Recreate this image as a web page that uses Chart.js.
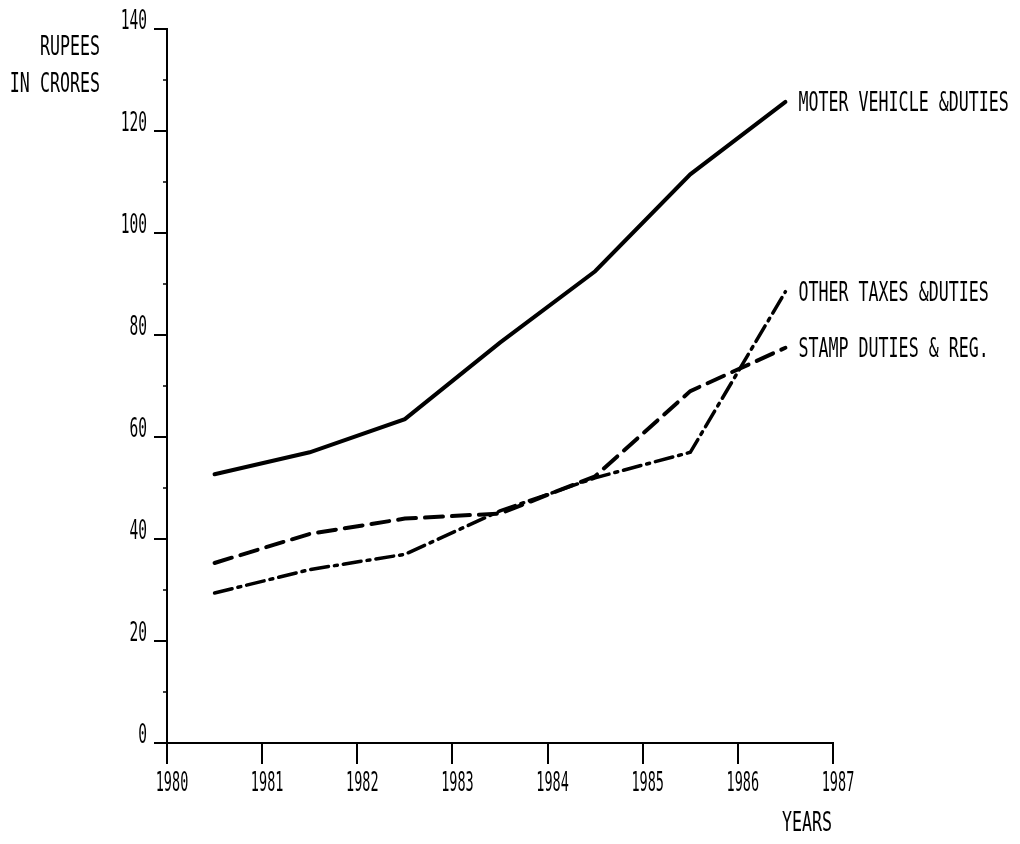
<!DOCTYPE html>
<html lang="en">
<head>
<meta charset="UTF-8" />
<title>Revenue in Rupees Crores, 1980-1987</title>
<script src="https://cdn.jsdelivr.net/npm/chart.js"></script>
<style>
  html, body { margin: 0; padding: 0; background: #fff; }
</style>
</head>
<body>
<canvas id="chart" width="1020" height="844"></canvas>
<script>
  // values, points sit mid-year
  const years = [1980.5, 1981.5, 1982.5, 1983.5, 1984.5, 1985.5, 1986.5];
  const motorVehicle = [52.7, 57, 63.5, 78.5, 92.5, 111.5, 125.7];
  const stampDuties = [35.3, 41, 44, 45, 52.3, 69, 77.5];
  const otherTaxes = [29.4, 34, 37, 45.5, 52, 57, 88.5];
  const seriesNames = ["MOTER VEHICLE &DUTIES", "STAMP DUTIES & REG.", "OTHER TAXES &DUTIES"];
  const yUnitLines = ["RUPEES", "IN CRORES"];
  const xTitle = "YEARS";

  // plotter-looking lettering: monospace squeezed sideways
  const FONT = '"DejaVu Sans Mono", "Liberation Mono", monospace';

  const toPoints = (vals) => vals.map((v, i) => ({ x: years[i], y: v }));

  function narrowText(ctx, text, x, y, align, size, squeeze) {
    ctx.save();
    ctx.translate(x, y);
    ctx.scale(squeeze, 1);
    ctx.font = size + "px " + FONT;
    ctx.textAlign = align;
    ctx.textBaseline = "alphabetic";
    ctx.fillText(text, 0, 0);
    ctx.restore();
  }

  const annotations = {
    id: "annotations",
    afterDraw(chart) {
      const ctx = chart.ctx;
      const xs = chart.scales.x;
      const ys = chart.scales.y;
      ctx.save();
      ctx.fillStyle = "#000";
      ctx.strokeStyle = "#000";

      // small minor ticks between the labelled ones
      ctx.lineWidth = 1.5;
      for (let v = 10; v < 140; v += 20) {
        const py = ys.getPixelForValue(v);
        ctx.beginPath();
        ctx.moveTo(xs.left - 4, py);
        ctx.lineTo(xs.left, py);
        ctx.stroke();
      }

      // tick labels
      ys.ticks.forEach((t) => {
        narrowText(ctx, String(t.value), xs.left - 20, ys.getPixelForValue(t.value), "right", 26, 0.56);
      });
      xs.ticks.forEach((t) => {
        narrowText(ctx, String(t.value), xs.getPixelForValue(t.value) + 5, ys.bottom + 48, "center", 26, 0.52);
      });

      // axis titles
      narrowText(ctx, yUnitLines[0], 100, 55, "right", 26, 0.64);
      narrowText(ctx, yUnitLines[1], 100, 92, "right", 26, 0.64);
      narrowText(ctx, xTitle, 782, 831, "left", 26, 0.64);

      // series names at the line ends
      chart.data.datasets.forEach((ds, i) => {
        const pts = chart.getDatasetMeta(i).data;
        const last = pts[pts.length - 1];
        narrowText(ctx, ds.label, last.x + 13, last.y + 9, "left", 26, 0.64);
      });
      ctx.restore();
    },
  };

  new Chart(document.getElementById("chart"), {
    type: "line",
    data: {
      datasets: [
        {
          label: seriesNames[0],
          data: toPoints(motorVehicle),
          borderColor: "#000",
          borderWidth: 4,
          borderCapStyle: "round",
        },
        {
          label: seriesNames[1],
          data: toPoints(stampDuties),
          borderColor: "#000",
          borderWidth: 4,
          borderDash: [18, 9],
          borderCapStyle: "round",
        },
        {
          label: seriesNames[2],
          data: toPoints(otherTaxes),
          borderColor: "#000",
          borderWidth: 3.5,
          borderDash: [18, 6, 3, 6],
          borderCapStyle: "round",
        },
      ],
    },
    options: {
      responsive: false,
      animation: false,
      elements: { point: { radius: 0 }, line: { tension: 0 } },
      layout: { padding: { top: 29, right: 187, bottom: 0, left: 0 } },
      plugins: { legend: { display: false }, tooltip: { enabled: false } },
      scales: {
        x: {
          type: "linear",
          min: 1980,
          max: 1987,
          ticks: { stepSize: 1, display: false },
          grid: { drawOnChartArea: false, tickLength: 21, color: "#000", lineWidth: 2 },
          border: { color: "#000", width: 2 },
          afterFit(s) { s.height = 101; },
        },
        y: {
          min: 0,
          max: 140,
          ticks: { stepSize: 20, display: false },
          grid: { drawOnChartArea: false, tickLength: 13, color: "#000", lineWidth: 2 },
          border: { color: "#000", width: 2 },
          afterFit(s) { s.width = 167; },
        },
      },
    },
    plugins: [annotations],
  });
</script>
</body>
</html>
